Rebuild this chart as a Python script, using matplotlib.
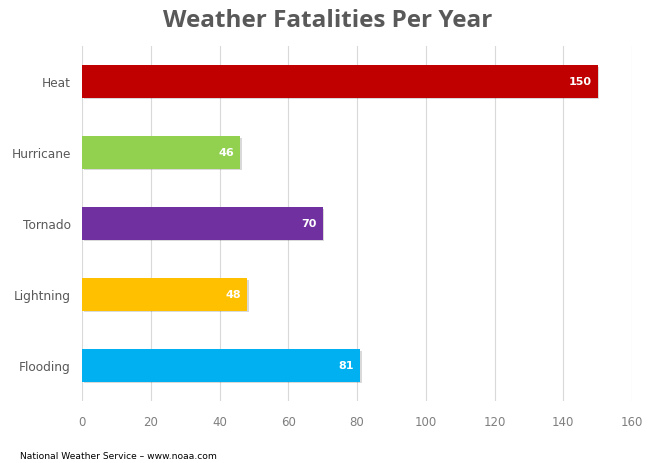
import matplotlib
matplotlib.use("Agg")
import matplotlib.pyplot as plt
import matplotlib.patheffects as pe

categories = ["Heat", "Hurricane", "Tornado", "Lightning", "Flooding"]
values = [150, 46, 70, 48, 81]
colors = ["#C00000", "#92D050", "#7030A0", "#FFC000", "#00B0F0"]
xticks = [0, 20, 40, 60, 80, 100, 120, 140, 160]

fig = plt.figure(figsize=(6.52, 4.64), dpi=100)
ax = fig.add_axes([82/652, 1-402/464, 550/652, 355/464])

ypos = list(range(len(categories)))
bars = ax.barh(ypos, values, height=0.46, color=colors, zorder=3)
for b in bars:
    b.set_path_effects([pe.SimplePatchShadow(offset=(1.2, -1.2), shadow_rgbFace="#000000", alpha=0.15), pe.Normal()])

for y, v in zip(ypos, values):
    ax.text(v - 1.8, y, str(v), ha="right", va="center", color="white",
            fontsize=8, fontweight="bold", zorder=4)

ax.set_xlim(0, 160)
ax.set_ylim(len(categories) - 0.5, -0.5)
ax.set_xticks(xticks)
ax.set_yticks(ypos)
ax.set_yticklabels(categories)
ax.xaxis.grid(True, color="#D9D9D9", linewidth=0.8, zorder=0)
ax.set_axisbelow(True)
for s in ax.spines.values():
    s.set_visible(False)
ax.tick_params(axis="both", length=0, colors="#595959", labelsize=8.7)
ax.tick_params(axis="x", pad=10)
ax.tick_params(axis="y", pad=8)
for lab in ax.get_xticklabels():
    lab.set_color("#7F7F7F")
    lab.set_fontsize(8.5)

fig.text(0.503, 1-21/464, "Weather Fatalities Per Year", ha="center", va="center",
         fontsize=17.5, fontweight="bold", color="#595959", family="Open Sans")
fig.text(20/652, 1-457/464, "National Weather Service \u2013 www.noaa.com", ha="left",
         va="center", fontsize=6.6, color="#000000", family="Liberation Sans Narrow")

fig.savefig("out.png", dpi=100)
